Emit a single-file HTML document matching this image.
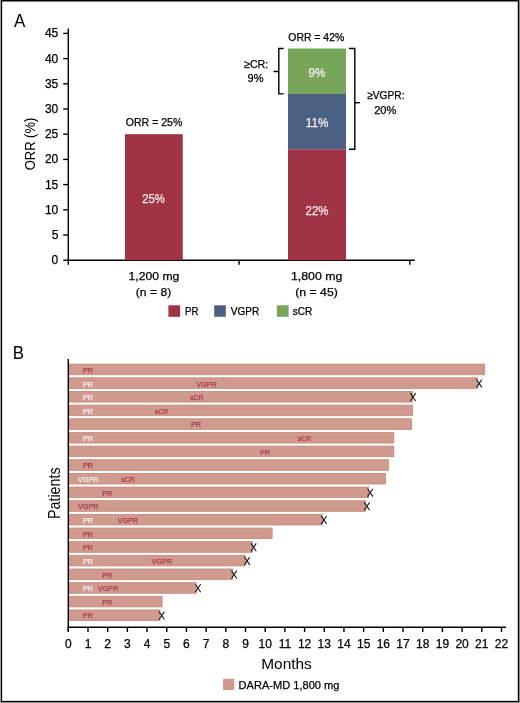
<!DOCTYPE html>
<html><head><meta charset="utf-8"><style>
html,body{margin:0;padding:0;background:#fff;}
svg{display:block;will-change:transform;}
text{font-family:"Liberation Sans",sans-serif;white-space:pre;}
</style></head><body>
<svg width="520" height="703" viewBox="0 0 520 703">
<rect x="0.00" y="0.00" width="520.00" height="703.00" fill="#fefefe" />
<line x1="68.30" y1="28.50" x2="68.30" y2="264.80" stroke="#000" stroke-width="1.4"/>
<line x1="67.60" y1="260.20" x2="414.80" y2="260.20" stroke="#000" stroke-width="1.6"/>
<line x1="63.20" y1="260.20" x2="68.30" y2="260.20" stroke="#000" stroke-width="1.4"/>
<line x1="63.20" y1="235.00" x2="68.30" y2="235.00" stroke="#000" stroke-width="1.4"/>
<line x1="63.20" y1="209.80" x2="68.30" y2="209.80" stroke="#000" stroke-width="1.4"/>
<line x1="63.20" y1="184.60" x2="68.30" y2="184.60" stroke="#000" stroke-width="1.4"/>
<line x1="63.20" y1="159.40" x2="68.30" y2="159.40" stroke="#000" stroke-width="1.4"/>
<line x1="63.20" y1="134.20" x2="68.30" y2="134.20" stroke="#000" stroke-width="1.4"/>
<line x1="63.20" y1="109.00" x2="68.30" y2="109.00" stroke="#000" stroke-width="1.4"/>
<line x1="63.20" y1="83.80" x2="68.30" y2="83.80" stroke="#000" stroke-width="1.4"/>
<line x1="63.20" y1="58.60" x2="68.30" y2="58.60" stroke="#000" stroke-width="1.4"/>
<line x1="63.20" y1="33.40" x2="68.30" y2="33.40" stroke="#000" stroke-width="1.4"/>
<line x1="239.10" y1="260.20" x2="239.10" y2="264.80" stroke="#000" stroke-width="1.4"/>
<line x1="409.80" y1="260.20" x2="409.80" y2="264.80" stroke="#000" stroke-width="1.4"/>
<rect x="125.00" y="134.20" width="57.80" height="126.00" fill="#a03446" />
<rect x="288.00" y="48.52" width="58.00" height="45.36" fill="#77a65b" />
<rect x="288.00" y="93.88" width="58.00" height="55.44" fill="#4b6183" />
<rect x="288.00" y="149.32" width="58.00" height="110.88" fill="#a03446" />
<path d="M283.6,48.52 H278.8 V93.88 H283.6" fill="none" stroke="#000" stroke-width="1.4"/>
<line x1="273.40" y1="71.50" x2="278.80" y2="71.50" stroke="#000" stroke-width="1.4"/>
<path d="M349,48.52 H354.8 V149.20 H349" fill="none" stroke="#000" stroke-width="1.4"/>
<line x1="354.80" y1="102.70" x2="359.80" y2="102.70" stroke="#000" stroke-width="1.4"/>
<rect x="168.40" y="305.30" width="11.70" height="11.50" fill="#a03446" />
<rect x="214.20" y="305.30" width="11.60" height="11.50" fill="#4b6183" />
<rect x="276.90" y="305.30" width="11.70" height="11.50" fill="#77a65b" />
<rect x="69.40" y="364.15" width="415.20" height="10.60" fill="#d09b8e" stroke="#c58677" stroke-width="0.8"/>
<rect x="69.40" y="377.81" width="408.10" height="10.60" fill="#d09b8e" stroke="#c58677" stroke-width="0.8"/>
<path d="M476.50,379.46 L481.90,387.36 M481.90,379.46 L476.50,387.36" fill="none" stroke="#111" stroke-width="1.05"/>
<rect x="69.40" y="391.46" width="343.10" height="10.60" fill="#d09b8e" stroke="#c58677" stroke-width="0.8"/>
<path d="M410.30,393.11 L415.70,401.01 M415.70,393.11 L410.30,401.01" fill="none" stroke="#111" stroke-width="1.05"/>
<rect x="69.40" y="405.12" width="343.10" height="10.60" fill="#d09b8e" stroke="#c58677" stroke-width="0.8"/>
<rect x="69.40" y="418.77" width="342.10" height="10.60" fill="#d09b8e" stroke="#c58677" stroke-width="0.8"/>
<rect x="69.40" y="432.43" width="324.40" height="10.60" fill="#d09b8e" stroke="#c58677" stroke-width="0.8"/>
<rect x="69.40" y="446.09" width="324.40" height="10.60" fill="#d09b8e" stroke="#c58677" stroke-width="0.8"/>
<rect x="69.40" y="459.74" width="319.00" height="10.60" fill="#d09b8e" stroke="#c58677" stroke-width="0.8"/>
<rect x="69.40" y="473.40" width="316.10" height="10.60" fill="#d09b8e" stroke="#c58677" stroke-width="0.8"/>
<rect x="69.40" y="487.05" width="299.10" height="10.60" fill="#d09b8e" stroke="#c58677" stroke-width="0.8"/>
<path d="M367.50,488.70 L372.90,496.60 M372.90,488.70 L367.50,496.60" fill="none" stroke="#111" stroke-width="1.05"/>
<rect x="69.40" y="500.71" width="296.00" height="10.60" fill="#d09b8e" stroke="#c58677" stroke-width="0.8"/>
<path d="M364.20,502.36 L369.60,510.26 M369.60,502.36 L364.20,510.26" fill="none" stroke="#111" stroke-width="1.05"/>
<rect x="69.40" y="514.37" width="253.00" height="10.60" fill="#d09b8e" stroke="#c58677" stroke-width="0.8"/>
<path d="M321.20,516.02 L326.60,523.92 M326.60,516.02 L321.20,523.92" fill="none" stroke="#111" stroke-width="1.05"/>
<rect x="69.40" y="528.02" width="202.70" height="10.60" fill="#d09b8e" stroke="#c58677" stroke-width="0.8"/>
<rect x="69.40" y="541.68" width="182.90" height="10.60" fill="#d09b8e" stroke="#c58677" stroke-width="0.8"/>
<path d="M250.90,543.33 L256.30,551.23 M256.30,543.33 L250.90,551.23" fill="none" stroke="#111" stroke-width="1.05"/>
<rect x="69.40" y="555.33" width="175.80" height="10.60" fill="#d09b8e" stroke="#c58677" stroke-width="0.8"/>
<path d="M244.40,556.98 L249.80,564.88 M249.80,556.98 L244.40,564.88" fill="none" stroke="#111" stroke-width="1.05"/>
<rect x="69.40" y="568.99" width="163.00" height="10.60" fill="#d09b8e" stroke="#c58677" stroke-width="0.8"/>
<path d="M231.40,570.64 L236.80,578.54 M236.80,570.64 L231.40,578.54" fill="none" stroke="#111" stroke-width="1.05"/>
<rect x="69.40" y="582.65" width="126.70" height="10.60" fill="#d09b8e" stroke="#c58677" stroke-width="0.8"/>
<path d="M195.30,584.30 L200.70,592.20 M200.70,584.30 L195.30,592.20" fill="none" stroke="#111" stroke-width="1.05"/>
<rect x="69.40" y="596.30" width="92.60" height="10.60" fill="#d09b8e" stroke="#c58677" stroke-width="0.8"/>
<rect x="69.40" y="609.96" width="90.50" height="10.60" fill="#d09b8e" stroke="#c58677" stroke-width="0.8"/>
<path d="M159.00,611.61 L164.40,619.51 M164.40,611.61 L159.00,619.51" fill="none" stroke="#111" stroke-width="1.05"/>
<line x1="68.30" y1="359.00" x2="68.30" y2="631.80" stroke="#000" stroke-width="1.4"/>
<line x1="67.60" y1="627.30" x2="506.00" y2="627.30" stroke="#000" stroke-width="1.5"/>
<line x1="68.30" y1="627.30" x2="68.30" y2="632.00" stroke="#000" stroke-width="1.4"/>
<line x1="87.99" y1="627.30" x2="87.99" y2="632.00" stroke="#000" stroke-width="1.4"/>
<line x1="107.68" y1="627.30" x2="107.68" y2="632.00" stroke="#000" stroke-width="1.4"/>
<line x1="127.37" y1="627.30" x2="127.37" y2="632.00" stroke="#000" stroke-width="1.4"/>
<line x1="147.06" y1="627.30" x2="147.06" y2="632.00" stroke="#000" stroke-width="1.4"/>
<line x1="166.75" y1="627.30" x2="166.75" y2="632.00" stroke="#000" stroke-width="1.4"/>
<line x1="186.44" y1="627.30" x2="186.44" y2="632.00" stroke="#000" stroke-width="1.4"/>
<line x1="206.13" y1="627.30" x2="206.13" y2="632.00" stroke="#000" stroke-width="1.4"/>
<line x1="225.82" y1="627.30" x2="225.82" y2="632.00" stroke="#000" stroke-width="1.4"/>
<line x1="245.51" y1="627.30" x2="245.51" y2="632.00" stroke="#000" stroke-width="1.4"/>
<line x1="265.20" y1="627.30" x2="265.20" y2="632.00" stroke="#000" stroke-width="1.4"/>
<line x1="284.89" y1="627.30" x2="284.89" y2="632.00" stroke="#000" stroke-width="1.4"/>
<line x1="304.58" y1="627.30" x2="304.58" y2="632.00" stroke="#000" stroke-width="1.4"/>
<line x1="324.27" y1="627.30" x2="324.27" y2="632.00" stroke="#000" stroke-width="1.4"/>
<line x1="343.96" y1="627.30" x2="343.96" y2="632.00" stroke="#000" stroke-width="1.4"/>
<line x1="363.65" y1="627.30" x2="363.65" y2="632.00" stroke="#000" stroke-width="1.4"/>
<line x1="383.34" y1="627.30" x2="383.34" y2="632.00" stroke="#000" stroke-width="1.4"/>
<line x1="403.03" y1="627.30" x2="403.03" y2="632.00" stroke="#000" stroke-width="1.4"/>
<line x1="422.72" y1="627.30" x2="422.72" y2="632.00" stroke="#000" stroke-width="1.4"/>
<line x1="442.41" y1="627.30" x2="442.41" y2="632.00" stroke="#000" stroke-width="1.4"/>
<line x1="462.10" y1="627.30" x2="462.10" y2="632.00" stroke="#000" stroke-width="1.4"/>
<line x1="481.79" y1="627.30" x2="481.79" y2="632.00" stroke="#000" stroke-width="1.4"/>
<line x1="501.48" y1="627.30" x2="501.48" y2="632.00" stroke="#000" stroke-width="1.4"/>
<rect x="223.00" y="678.75" width="11.25" height="11.25" fill="#d09b8e" />
<rect x="2.00" y="0.00" width="1.00" height="703.00" fill="#dcdcdc" />
<rect x="517.00" y="0.00" width="1.00" height="703.00" fill="#c8c8c8" />
<rect x="0.00" y="700.00" width="520.00" height="1.00" fill="#d4d4d4" />
<rect x="0.00" y="0.00" width="520.00" height="1.00" fill="#000" />
<rect x="0.00" y="1.00" width="520.00" height="1.00" fill="#808080" />
<rect x="1.00" y="0.00" width="1.00" height="703.00" fill="#000" />
<rect x="518.00" y="0.00" width="1.00" height="703.00" fill="#000" />
<rect x="0.00" y="701.00" width="520.00" height="1.00" fill="#000" />
<rect x="0.00" y="0.00" width="1.00" height="703.00" fill="#9c9c9c" />
<rect x="519.00" y="0.00" width="1.00" height="703.00" fill="#8c8c8c" />
<rect x="0.00" y="702.00" width="520.00" height="1.00" fill="#8c8c8c" />
<text x="13.98" y="26.90" font-size="18.4" textLength="11.35" lengthAdjust="spacingAndGlyphs" fill="#000000" stroke="#000000" stroke-width="0">A</text>
<text x="51.55" y="264.20" font-size="12.0" fill="#000000" stroke="#000000" stroke-width="0.25">0</text>
<text x="51.67" y="239.00" font-size="12.0" fill="#000000" stroke="#000000" stroke-width="0.25">5</text>
<text x="44.92" y="213.80" font-size="12.0" fill="#000000" stroke="#000000" stroke-width="0.25">10</text>
<text x="44.92" y="188.60" font-size="12.0" fill="#000000" stroke="#000000" stroke-width="0.25">15</text>
<text x="44.92" y="163.40" font-size="12.0" fill="#000000" stroke="#000000" stroke-width="0.25">20</text>
<text x="44.92" y="138.20" font-size="12.0" fill="#000000" stroke="#000000" stroke-width="0.25">25</text>
<text x="44.92" y="113.00" font-size="12.0" fill="#000000" stroke="#000000" stroke-width="0.25">30</text>
<text x="44.92" y="87.80" font-size="12.0" fill="#000000" stroke="#000000" stroke-width="0.25">35</text>
<text x="44.92" y="62.60" font-size="12.0" fill="#000000" stroke="#000000" stroke-width="0.25">40</text>
<text x="44.92" y="37.40" font-size="12.0" fill="#000000" stroke="#000000" stroke-width="0.25">45</text>
<text x="125.83" y="126.20" font-size="11.2" textLength="56.49" lengthAdjust="spacingAndGlyphs" fill="#000000" stroke="#000000" stroke-width="0.25">ORR = 25%</text>
<text x="288.33" y="40.70" font-size="11.2" textLength="55.88" lengthAdjust="spacingAndGlyphs" fill="#000000" stroke="#000000" stroke-width="0.25">ORR = 42%</text>
<text x="244.04" y="67.50" font-size="11.2" textLength="24.27" lengthAdjust="spacingAndGlyphs" fill="#000000" stroke="#000000" stroke-width="0.25">≥CR:</text>
<text x="247.51" y="81.80" font-size="11.2" textLength="15.92" lengthAdjust="spacingAndGlyphs" fill="#000000" stroke="#000000" stroke-width="0.25">9%</text>
<text x="367.16" y="99.30" font-size="11.2" textLength="37.35" lengthAdjust="spacingAndGlyphs" fill="#000000" stroke="#000000" stroke-width="0.25">≥VGPR:</text>
<text x="374.18" y="113.70" font-size="11.2" textLength="22.23" lengthAdjust="spacingAndGlyphs" fill="#000000" stroke="#000000" stroke-width="0.25">20%</text>
<text x="308.50" y="76.60" font-size="12.0" textLength="16.76" lengthAdjust="spacingAndGlyphs" fill="#f7eeec" stroke="#f7eeec" stroke-width="0.25">9%</text>
<text x="305.85" y="126.90" font-size="12.0" textLength="22.52" lengthAdjust="spacingAndGlyphs" fill="#f7eeec" stroke="#f7eeec" stroke-width="0.25">11%</text>
<text x="305.61" y="214.70" font-size="12.0" textLength="22.76" lengthAdjust="spacingAndGlyphs" fill="#f7eeec" stroke="#f7eeec" stroke-width="0.25">22%</text>
<text x="142.21" y="203.30" font-size="12.0" textLength="22.56" lengthAdjust="spacingAndGlyphs" fill="#f7eeec" stroke="#f7eeec" stroke-width="0.25">25%</text>
<text x="128.60" y="280.40" font-size="11.8" textLength="50.75" lengthAdjust="spacingAndGlyphs" fill="#000000" stroke="#000000" stroke-width="0.25">1,200 mg</text>
<text x="135.83" y="296.20" font-size="11.8" textLength="35.37" lengthAdjust="spacingAndGlyphs" fill="#000000" stroke="#000000" stroke-width="0.25">(n = 8)</text>
<text x="290.99" y="280.40" font-size="11.8" textLength="51.37" lengthAdjust="spacingAndGlyphs" fill="#000000" stroke="#000000" stroke-width="0.25">1,800 mg</text>
<text x="295.22" y="296.20" font-size="11.8" textLength="42.55" lengthAdjust="spacingAndGlyphs" fill="#000000" stroke="#000000" stroke-width="0.25">(n = 45)</text>
<text x="185.03" y="314.90" font-size="11.0" textLength="13.44" lengthAdjust="spacingAndGlyphs" fill="#000000" stroke="#000000" stroke-width="0.25">PR</text>
<text x="230.69" y="314.90" font-size="11.0" textLength="28.52" lengthAdjust="spacingAndGlyphs" fill="#000000" stroke="#000000" stroke-width="0.25">VGPR</text>
<text x="292.76" y="314.90" font-size="11.0" textLength="19.51" lengthAdjust="spacingAndGlyphs" fill="#000000" stroke="#000000" stroke-width="0.25">sCR</text>
<text transform="translate(34.90,170.27) rotate(-90)" x="0" y="0" font-size="14.2" textLength="52.53" lengthAdjust="spacingAndGlyphs" fill="#000000" stroke="#000000" stroke-width="0">ORR (%)</text>
<text x="12.85" y="358.50" font-size="18.8" textLength="11.29" lengthAdjust="spacingAndGlyphs" fill="#000000" stroke="#000000" stroke-width="0">B</text>
<text x="82.92" y="372.90" font-size="7.9" textLength="10.09" lengthAdjust="spacingAndGlyphs" fill="#a63a4b" stroke="#a63a4b" stroke-width="0.25">PR</text>
<text x="82.92" y="386.54" font-size="7.9" textLength="10.09" lengthAdjust="spacingAndGlyphs" fill="#f7eeec" stroke="#f7eeec" stroke-width="0.25">PR</text>
<text x="196.30" y="386.54" font-size="7.9" textLength="20.35" lengthAdjust="spacingAndGlyphs" fill="#a63a4b" stroke="#a63a4b" stroke-width="0.25">VGPR</text>
<text x="82.92" y="400.18" font-size="7.9" textLength="10.09" lengthAdjust="spacingAndGlyphs" fill="#f7eeec" stroke="#f7eeec" stroke-width="0.25">PR</text>
<text x="189.88" y="400.18" font-size="7.9" textLength="13.54" lengthAdjust="spacingAndGlyphs" fill="#a63a4b" stroke="#a63a4b" stroke-width="0.25">sCR</text>
<text x="82.92" y="413.82" font-size="7.9" textLength="10.09" lengthAdjust="spacingAndGlyphs" fill="#f7eeec" stroke="#f7eeec" stroke-width="0.25">PR</text>
<text x="154.78" y="413.82" font-size="7.9" textLength="13.54" lengthAdjust="spacingAndGlyphs" fill="#a63a4b" stroke="#a63a4b" stroke-width="0.25">sCR</text>
<text x="191.03" y="427.46" font-size="7.9" textLength="10.09" lengthAdjust="spacingAndGlyphs" fill="#a63a4b" stroke="#a63a4b" stroke-width="0.25">PR</text>
<text x="82.92" y="441.10" font-size="7.9" textLength="10.09" lengthAdjust="spacingAndGlyphs" fill="#f7eeec" stroke="#f7eeec" stroke-width="0.25">PR</text>
<text x="297.68" y="441.10" font-size="7.9" textLength="13.54" lengthAdjust="spacingAndGlyphs" fill="#a63a4b" stroke="#a63a4b" stroke-width="0.25">sCR</text>
<text x="260.23" y="454.74" font-size="7.9" textLength="10.09" lengthAdjust="spacingAndGlyphs" fill="#a63a4b" stroke="#a63a4b" stroke-width="0.25">PR</text>
<text x="82.92" y="468.38" font-size="7.9" textLength="10.09" lengthAdjust="spacingAndGlyphs" fill="#a63a4b" stroke="#a63a4b" stroke-width="0.25">PR</text>
<text x="78.10" y="482.02" font-size="7.9" textLength="20.35" lengthAdjust="spacingAndGlyphs" fill="#f7eeec" stroke="#f7eeec" stroke-width="0.25">VGPR</text>
<text x="121.28" y="482.02" font-size="7.9" textLength="13.54" lengthAdjust="spacingAndGlyphs" fill="#a63a4b" stroke="#a63a4b" stroke-width="0.25">sCR</text>
<text x="102.22" y="495.66" font-size="7.9" textLength="10.09" lengthAdjust="spacingAndGlyphs" fill="#a63a4b" stroke="#a63a4b" stroke-width="0.25">PR</text>
<text x="78.10" y="509.30" font-size="7.9" textLength="20.35" lengthAdjust="spacingAndGlyphs" fill="#a63a4b" stroke="#a63a4b" stroke-width="0.25">VGPR</text>
<text x="82.92" y="522.94" font-size="7.9" textLength="10.09" lengthAdjust="spacingAndGlyphs" fill="#f7eeec" stroke="#f7eeec" stroke-width="0.25">PR</text>
<text x="117.70" y="522.94" font-size="7.9" textLength="20.35" lengthAdjust="spacingAndGlyphs" fill="#a63a4b" stroke="#a63a4b" stroke-width="0.25">VGPR</text>
<text x="82.92" y="536.58" font-size="7.9" textLength="10.09" lengthAdjust="spacingAndGlyphs" fill="#a63a4b" stroke="#a63a4b" stroke-width="0.25">PR</text>
<text x="82.92" y="550.22" font-size="7.9" textLength="10.09" lengthAdjust="spacingAndGlyphs" fill="#a63a4b" stroke="#a63a4b" stroke-width="0.25">PR</text>
<text x="82.92" y="563.86" font-size="7.9" textLength="10.09" lengthAdjust="spacingAndGlyphs" fill="#f7eeec" stroke="#f7eeec" stroke-width="0.25">PR</text>
<text x="151.80" y="563.86" font-size="7.9" textLength="20.35" lengthAdjust="spacingAndGlyphs" fill="#a63a4b" stroke="#a63a4b" stroke-width="0.25">VGPR</text>
<text x="102.22" y="577.50" font-size="7.9" textLength="10.09" lengthAdjust="spacingAndGlyphs" fill="#a63a4b" stroke="#a63a4b" stroke-width="0.25">PR</text>
<text x="82.92" y="591.14" font-size="7.9" textLength="10.09" lengthAdjust="spacingAndGlyphs" fill="#f7eeec" stroke="#f7eeec" stroke-width="0.25">PR</text>
<text x="98.00" y="591.14" font-size="7.9" textLength="20.35" lengthAdjust="spacingAndGlyphs" fill="#a63a4b" stroke="#a63a4b" stroke-width="0.25">VGPR</text>
<text x="102.22" y="604.78" font-size="7.9" textLength="10.09" lengthAdjust="spacingAndGlyphs" fill="#a63a4b" stroke="#a63a4b" stroke-width="0.25">PR</text>
<text x="82.83" y="618.42" font-size="7.9" textLength="10.09" lengthAdjust="spacingAndGlyphs" fill="#a63a4b" stroke="#a63a4b" stroke-width="0.25">PR</text>
<text x="64.96" y="647.80" font-size="12.0" fill="#000000" stroke="#000000" stroke-width="0.25">0</text>
<text x="84.65" y="647.80" font-size="12.0" fill="#000000" stroke="#000000" stroke-width="0.25">1</text>
<text x="104.34" y="647.80" font-size="12.0" fill="#000000" stroke="#000000" stroke-width="0.25">2</text>
<text x="124.03" y="647.80" font-size="12.0" fill="#000000" stroke="#000000" stroke-width="0.25">3</text>
<text x="143.72" y="647.80" font-size="12.0" fill="#000000" stroke="#000000" stroke-width="0.25">4</text>
<text x="163.41" y="647.80" font-size="12.0" fill="#000000" stroke="#000000" stroke-width="0.25">5</text>
<text x="183.10" y="647.80" font-size="12.0" fill="#000000" stroke="#000000" stroke-width="0.25">6</text>
<text x="202.79" y="647.80" font-size="12.0" fill="#000000" stroke="#000000" stroke-width="0.25">7</text>
<text x="222.48" y="647.80" font-size="12.0" fill="#000000" stroke="#000000" stroke-width="0.25">8</text>
<text x="242.17" y="647.80" font-size="12.0" fill="#000000" stroke="#000000" stroke-width="0.25">9</text>
<text x="258.53" y="647.80" font-size="12.0" fill="#000000" stroke="#000000" stroke-width="0.25">10</text>
<text x="278.66" y="647.80" font-size="12.0" fill="#000000" stroke="#000000" stroke-width="0.25">11</text>
<text x="297.91" y="647.80" font-size="12.0" fill="#000000" stroke="#000000" stroke-width="0.25">12</text>
<text x="317.60" y="647.80" font-size="12.0" fill="#000000" stroke="#000000" stroke-width="0.25">13</text>
<text x="337.29" y="647.80" font-size="12.0" fill="#000000" stroke="#000000" stroke-width="0.25">14</text>
<text x="356.98" y="647.80" font-size="12.0" fill="#000000" stroke="#000000" stroke-width="0.25">15</text>
<text x="376.67" y="647.80" font-size="12.0" fill="#000000" stroke="#000000" stroke-width="0.25">16</text>
<text x="396.36" y="647.80" font-size="12.0" fill="#000000" stroke="#000000" stroke-width="0.25">17</text>
<text x="416.05" y="647.80" font-size="12.0" fill="#000000" stroke="#000000" stroke-width="0.25">18</text>
<text x="435.74" y="647.80" font-size="12.0" fill="#000000" stroke="#000000" stroke-width="0.25">19</text>
<text x="455.43" y="647.80" font-size="12.0" fill="#000000" stroke="#000000" stroke-width="0.25">20</text>
<text x="475.12" y="647.80" font-size="12.0" fill="#000000" stroke="#000000" stroke-width="0.25">21</text>
<text x="494.81" y="647.80" font-size="12.0" fill="#000000" stroke="#000000" stroke-width="0.25">22</text>
<text x="261.24" y="669.25" font-size="15.3" textLength="50.56" lengthAdjust="spacingAndGlyphs" fill="#000000" stroke="#000000" stroke-width="0">Months</text>
<text x="238.56" y="688.75" font-size="11.8" textLength="100.92" lengthAdjust="spacingAndGlyphs" fill="#000000" stroke="#000000" stroke-width="0.25">DARA-MD 1,800 mg</text>
<text transform="translate(59.70,519.03) rotate(-90)" x="0" y="0" font-size="16.0" textLength="51.63" lengthAdjust="spacingAndGlyphs" fill="#000000" stroke="#000000" stroke-width="0">Patients</text>
</svg>
</body></html>
